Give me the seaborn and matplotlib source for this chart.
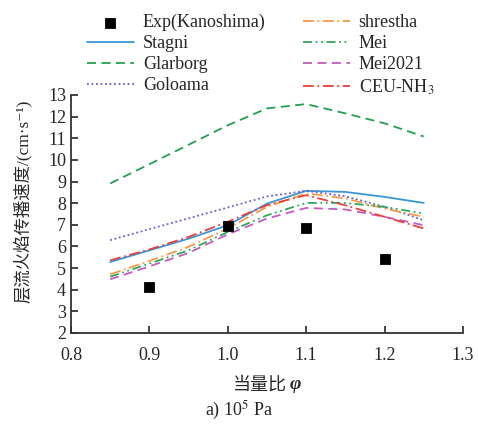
import numpy as np
import pandas as pd
import seaborn as sns
import matplotlib.pyplot as plt

# data
phi = [0.85, 0.90, 0.95, 1.00, 1.05, 1.10, 1.15, 1.20, 1.25]
stagni = [5.28, 5.82, 6.36, 6.98, 7.98, 8.57, 8.52, 8.29, 8.01]
glarborg = [8.91, 9.80, 10.70, 11.60, 12.38, 12.58, 12.15, 11.69, 11.08]
goloama = [6.29, 6.80, 7.30, 7.80, 8.31, 8.57, 8.32, 7.83, 7.21]
shrestha = [4.71, 5.33, 5.98, 6.83, 7.83, 8.45, 8.22, 7.75, 7.37]
mei = [4.60, 5.21, 5.82, 6.67, 7.44, 8.01, 8.01, 7.83, 7.52]
mei2021 = [4.48, 5.08, 5.70, 6.56, 7.29, 7.78, 7.71, 7.37, 6.98]
ceu = [5.36, 5.86, 6.44, 7.14, 7.91, 8.37, 7.90, 7.37, 6.83]

exp_phi = [0.9, 1.0, 1.1, 1.2]
exp_su = [4.13, 6.95, 6.86, 5.44]

sns.set_style("ticks")
plt.rcParams['font.family'] = ['Liberation Serif', 'Noto Sans CJK SC', 'DejaVu Sans']
plt.rcParams['mathtext.fontset'] = 'stix'

fig = plt.figure(figsize=(4.78, 4.29), dpi=100)
ax = fig.add_axes([0.1485, 0.2238, 0.82, 0.5548])

series = [
    ("Stagni", stagni, "#3a96d6", None),
    ("Glarborg", glarborg, "#22a050", (5, 3)),
    ("Goloama", goloama, "#6a5fc8", (1, 1.5)),
    ("shrestha", shrestha, "#f59a4a", (6, 2, 1, 2)),
    ("Mei", mei, "#2fa85a", (5, 2, 1, 2, 1, 2)),
    ("Mei2021", mei2021, "#c25bc2", (5, 3)),
    ("CEU-NH$_3$", ceu, "#e8403a", (6, 2, 1, 2)),
]

sns.scatterplot(x=exp_phi, y=exp_su, ax=ax, marker="s", color="black",
                s=55, edgecolor="black", label="Exp(Kanoshima)", zorder=5)
for name, vals, col, dash in series:
    sns.lineplot(x=phi, y=vals, ax=ax, color=col, lw=1.3, label=name)
    if dash is not None:
        ax.lines[-1].set_dashes(dash)

ax.set_xlim(0.8, 1.3)
ax.set_ylim(2, 13)
ax.set_xticks([0.8, 0.9, 1.0, 1.1, 1.2, 1.3])
ax.set_yticks(range(2, 14))
sns.despine(ax=ax)
ax.tick_params(direction="in", labelsize=13, length=5, width=1.2)
ax.tick_params(axis="x", pad=10)
for s in ["left", "bottom"]:
    ax.spines[s].set_linewidth(1.3)
    ax.spines[s].set_color("#333333")

# axis titles: chinese text without mathtext so font fallback works
ax.set_ylabel("层流火焰传播速度/(cm·s⁻¹)", fontsize=12.5,
              family=['Liberation Serif', 'Noto Sans CJK SC', 'DejaVu Sans'])
ax.yaxis.set_label_coords(-0.10, 0.555)
fig.text(0.6, 0.103, "当量比", ha="right", va="center", fontsize=13,
         family=['Noto Sans CJK SC', 'DejaVu Sans'])
fig.text(0.607, 0.103, "φ", ha="left", va="center", fontsize=14,
         family='Liberation Serif', style="italic", weight="bold")

handles, labels = ax.get_legend_handles_labels()
ax.get_legend().remove()
fig.legend(handles, labels, ncol=2, loc="upper left", bbox_to_anchor=(0.148, 1.005),
           frameon=False, fontsize=13, handlelength=2.6, labelspacing=0.22,
           columnspacing=2.05, handletextpad=0.5)

fig.text(0.5, 0.03, "a) 10$^5$ Pa", ha="center", fontsize=13)

fig.savefig("out.png", dpi=100)
